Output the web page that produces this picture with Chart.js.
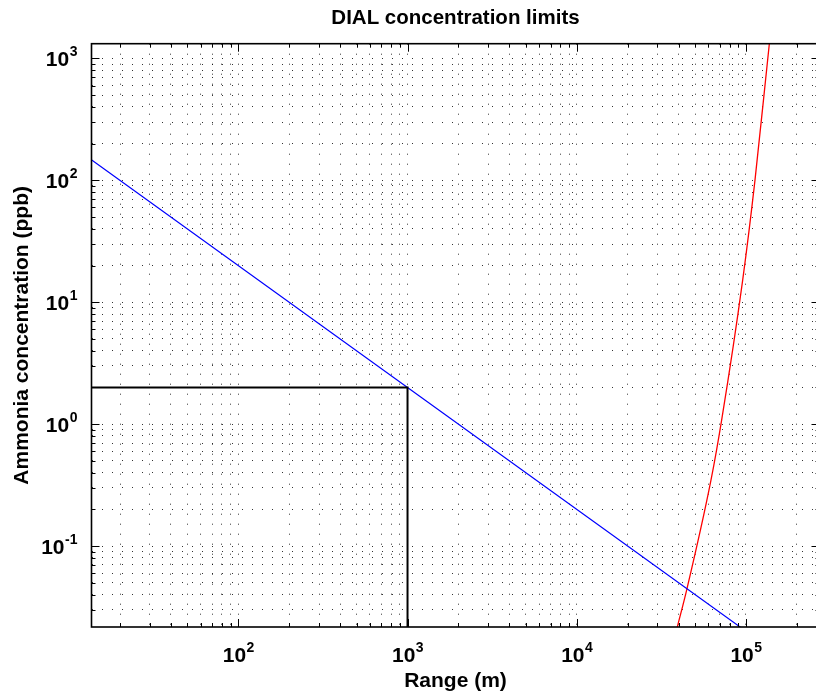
<!DOCTYPE html>
<html>
<head>
<meta charset="utf-8">
<script src="https://cdn.jsdelivr.net/npm/chart.js@4/dist/chart.umd.min.js"></script>
<style>
  html, body { margin: 0; padding: 0; overflow: hidden; background: #fff; }
  #wrap { width: 822px; height: 692px; }
</style>
</head>
<body>
<div id="wrap"><canvas id="c" width="822" height="692" style="width:822px;height:692px"></canvas></div>
<script>
// ---- data ----
const chartTitle = 'DIAL concentration limits';
const xTitle = 'Range (m)';
const yTitle = 'Ammonia concentration (ppb)';

const xMajorTicks = [10, 100, 1000, 10000, 100000];
const yMajorTicks = [0.01, 0.1, 1, 10, 100, 1000];
const minorMultipliers = [1, 2, 3, 4, 5, 6, 7, 8, 9];

const xRange = [13.57, 271900];
const yRange = [0.02167, 1322];

// blue: detection limit line
const rangeBlue = [10, 1000, 100000];
const concBlue  = [200, 2, 0.02];

// red: steep curve
const rangeRed = [38000, 39300, 44600, 62100, 71800, 95600, 113000, 137400, 142000];
const concRed  = [0.018, 0.0217, 0.0435, 0.347, 1.08, 15.2, 100, 1320, 2000];

// black: 2 ppb at 1 km guide lines
const rangeGuide = [10, 1000, 1000];
const concGuide  = [2, 2, 0.01];

// ---- helpers ----
const isMajor = v => Math.abs(Math.log10(v) - Math.round(Math.log10(v))) < 1e-6;
function buildTicks(majors, lo, hi) {
  const out = [];
  majors.forEach(m => minorMultipliers.forEach(k => {
    const v = parseFloat((m * k).toPrecision(6));
    if (v >= lo && v <= hi) out.push({ value: v });
  }));
  return out;
}
const zip = (xs, ys) => xs.map((x, i) => ({ x, y: ys[i] }));

const FONT = '"Liberation Sans", Arial, Helvetica, sans-serif';

// inward tick marks and box, as in the original figure
const framePlugin = {
  id: 'frame',
  afterDatasetsDraw(chart) {
    const { ctx, chartArea: a, scales: { x, y } } = chart;
    ctx.save();
    ctx.strokeStyle = '#000';
    ctx.lineWidth = 1;
    ctx.beginPath();
    x.ticks.forEach(t => {
      const p = Math.round(x.getPixelForValue(t.value)) + 0.5;
      const L = isMajor(t.value) ? 8 : 4;
      ctx.moveTo(p, a.bottom); ctx.lineTo(p, a.bottom - L);
      ctx.moveTo(p, a.top); ctx.lineTo(p, a.top + L);
    });
    y.ticks.forEach(t => {
      const p = Math.round(y.getPixelForValue(t.value)) + 0.5;
      const L = isMajor(t.value) ? 8 : 4;
      ctx.moveTo(a.left, p); ctx.lineTo(a.left + L, p);
      ctx.moveTo(a.right, p); ctx.lineTo(a.right - L, p);
    });
    ctx.stroke();
    ctx.lineWidth = 1.6;
    ctx.strokeRect(a.left, a.top, a.right - a.left, a.bottom - a.top);
    ctx.restore();
  }
};

// power-of-ten tick labels with real superscripts, placed from the scales
const powLabelPlugin = {
  id: 'powLabels',
  afterDraw(chart) {
    const { ctx, chartArea: a, scales: { x, y } } = chart;
    const big = 'bold 21px ' + FONT, small = 'bold 14px ' + FONT;
    ctx.save();
    ctx.fillStyle = '#000';
    ctx.textBaseline = 'alphabetic';
    ctx.textAlign = 'left';
    const draw = (v, px, base, align) => {
      const e = String(Math.round(Math.log10(v)));
      ctx.font = big; const wb = ctx.measureText('10').width;
      ctx.font = small; const we = ctx.measureText(e).width;
      const left = align === 'center' ? px - (wb + we) / 2 : px - (wb + we);
      ctx.font = big; ctx.fillText('10', left, base);
      ctx.font = small; ctx.fillText(e, left + wb + 0.5, base - 10);
    };
    x.ticks.forEach(t => {
      if (isMajor(t.value)) draw(t.value, x.getPixelForValue(t.value), a.bottom + 35, 'center');
    });
    y.ticks.forEach(t => {
      if (isMajor(t.value)) draw(t.value, a.left - 14.5, y.getPixelForValue(t.value) + 7.5, 'right');
    });
    ctx.restore();
  }
};

new Chart(document.getElementById('c'), {
  type: 'line',
  data: {
    datasets: [
      { data: zip(rangeGuide, concGuide), borderColor: '#000', borderWidth: 2, pointRadius: 0, tension: 0 },
      { data: zip(rangeBlue, concBlue), borderColor: '#0000ff', borderWidth: 1.2, pointRadius: 0, tension: 0 },
      { data: zip(rangeRed, concRed), borderColor: '#ff0000', borderWidth: 1.3, pointRadius: 0, cubicInterpolationMode: 'monotone' }
    ]
  },
  options: {
    responsive: false,
    devicePixelRatio: 1,
    animation: false,
    layout: { padding: { left: 0, right: 2.5, top: 0, bottom: 0 } },
    plugins: {
      legend: { display: false },
      tooltip: { enabled: false },
      title: {
        display: true,
        text: chartTitle,
        fullSize: false,
        color: '#000',
        font: { family: FONT, size: 20.5, weight: 'bold', lineHeight: 1.2 },
        padding: { top: 6, bottom: 13.1 }
      }
    },
    scales: {
      x: {
        type: 'logarithmic',
        position: 'bottom',
        min: xRange[0], max: xRange[1],
        afterBuildTicks: s => { s.ticks = buildTicks(xMajorTicks, xRange[0], xRange[1]); },
        afterFit: s => { s.height = 65; },
        ticks: { display: false, autoSkip: false },
        grid: { color: 'rgba(0,0,0,0.8)', lineWidth: 1, drawTicks: false },
        border: { display: false, dash: [1, 9] },
        title: {
          display: true, text: xTitle, color: '#000',
          font: { family: FONT, size: 21, weight: 'bold', lineHeight: 1 },
          padding: { top: 0, bottom: 0.5 }
        }
      },
      y: {
        type: 'logarithmic',
        position: 'left',
        min: yRange[0], max: yRange[1],
        afterBuildTicks: s => { s.ticks = buildTicks(yMajorTicks, yRange[0], yRange[1]); },
        afterFit: s => { s.width = 91.5; },
        ticks: { display: false, autoSkip: false },
        grid: { color: 'rgba(0,0,0,0.8)', lineWidth: 1, drawTicks: false },
        border: { display: false, dash: [1, 9] },
        title: {
          display: true, text: yTitle, color: '#000',
          font: { family: FONT, size: 21, weight: 'bold', lineHeight: 1.2 },
          padding: { top: 9.5, bottom: 0 }
        }
      }
    }
  },
  plugins: [framePlugin, powLabelPlugin]
});
</script>
</body>
</html>
